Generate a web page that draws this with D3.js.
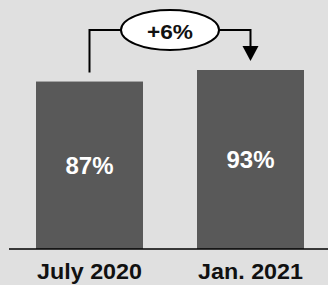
<!DOCTYPE html>
<html><head><meta charset="utf-8">
<script src="https://cdn.jsdelivr.net/npm/d3@7"></script>
<style>html,body{margin:0;padding:0;background:#e0e0e0;}svg{display:block;}</style>
</head><body>
<script>
const categories = ["July 2020", "Jan. 2021"];
const values = [87, 93];
const valueLabels = ["87%", "93%"];
const changeLabel = "+6%";

const W = 328, H = 285;
const svg = d3.select("body").append("svg").attr("width", W).attr("height", H);
svg.append("rect").attr("width", W).attr("height", H).attr("fill", "#e0e0e0");

const x = d3.scaleBand().domain(categories).range([36, 304]).paddingInner(0.3354).paddingOuter(0);
const y = d3.scaleLinear().domain([0, 93]).range([249, 70]);

const font = "Liberation Sans, Arial, Helvetica, sans-serif";

svg.selectAll("rect.bar").data(values).join("rect")
  .attr("class", "bar")
  .attr("x", (d, i) => x(categories[i]))
  .attr("width", x.bandwidth())
  .attr("y", d => y(d))
  .attr("height", d => y(0) - y(d))
  .attr("fill", "#595959");

svg.selectAll("text.val").data(values).join("text")
  .attr("class", "val")
  .attr("x", (d, i) => x(categories[i]) + x.bandwidth() / 2)
  .attr("y", d => (y(d) + y(0)) / 2)
  .attr("dy", "0.36em")
  .attr("text-anchor", "middle")
  .attr("fill", "#ffffff")
  .attr("font-family", font)
  .attr("font-weight", "bold")
  .attr("font-size", 24)
  .attr("textLength", 48)
  .attr("lengthAdjust", "spacingAndGlyphs")
  .text((d, i) => valueLabels[i]);

// baseline axis
const axis = d3.axisBottom(x).tickSize(0).tickPadding(14);
const ag = svg.append("g").attr("transform", `translate(0,${y(0)})`).call(axis);
ag.select(".domain").attr("d", `M9,0H328`).attr("stroke", "#000").attr("stroke-width", 1.5);
ag.selectAll("text").attr("font-family", font).attr("font-weight", "bold")
  .attr("font-size", 22).attr("fill", "#111")
  .attr("textLength", 105).attr("lengthAdjust", "spacingAndGlyphs");

// change annotation
const cx1 = x(categories[0]) + x.bandwidth() / 2;
const cx2 = x(categories[1]) + x.bandwidth() / 2;
const topY = 30;
const ex = 170, rx = 49, ry = 20;
svg.append("path")
  .attr("d", `M${cx1},${y(values[0]) - 9}V${topY}H${ex}H${cx2}V${y(values[1]) - 23}`)
  .attr("fill", "none").attr("stroke", "#000").attr("stroke-width", 2);
svg.append("path")
  .attr("d", `M${cx2 - 8},${y(values[1]) - 24}L${cx2 + 8},${y(values[1]) - 24}L${cx2},${y(values[1]) - 9}Z`)
  .attr("fill", "#000");
svg.append("ellipse").attr("cx", ex).attr("cy", topY).attr("rx", rx).attr("ry", ry)
  .attr("fill", "#fff").attr("stroke", "#000").attr("stroke-width", 2);
svg.append("text").attr("x", ex).attr("y", topY + 1).attr("dy", "0.36em")
  .attr("text-anchor", "middle").attr("font-family", font).attr("font-weight", "bold")
  .attr("font-size", 21).attr("fill", "#111")
  .attr("textLength", 46).attr("lengthAdjust", "spacingAndGlyphs")
  .text(changeLabel);
</script>
</body></html>
